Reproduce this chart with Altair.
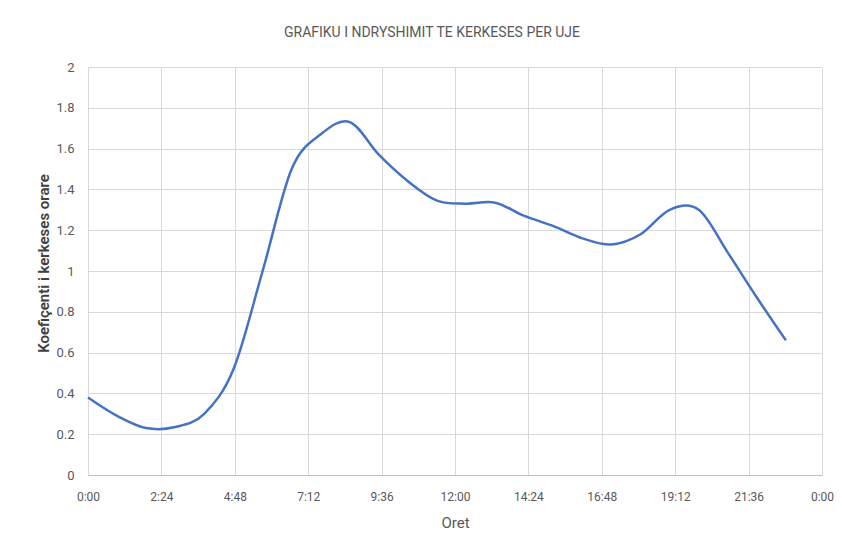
import altair as alt
import pandas as pd

# Hours (position on the 0–24 h axis) of each plotted point
hours = [0.00, 0.95, 1.90, 2.85, 3.80, 4.76, 5.71, 6.66, 7.61, 8.56, 9.51, 10.46,
         11.41, 12.36, 13.31, 14.27, 15.22, 16.17, 17.12, 18.07, 19.02, 19.97,
         20.92, 21.87, 22.82]
# Hourly demand coefficient
coef = [0.38, 0.29, 0.23, 0.235, 0.30, 0.52, 1.00, 1.50, 1.67, 1.73, 1.57, 1.44,
        1.345, 1.33, 1.335, 1.27, 1.22, 1.16, 1.13, 1.18, 1.30, 1.30, 1.09, 0.87, 0.66]

x_ticks = [0, 2.4, 4.8, 7.2, 9.6, 12, 14.4, 16.8, 19.2, 21.6, 24]
x_labels = ["0:00", "2:24", "4:48", "7:12", "9:36", "12:00", "14:24", "16:48",
            "19:12", "21:36", "0:00"]
y_ticks = [0, 0.2, 0.4, 0.6, 0.8, 1.0, 1.2, 1.4, 1.6, 1.8, 2.0]

df = pd.DataFrame({"ora": hours, "koef": coef})

label_expr = "".join(
    f"abs(datum.value - {v}) < 0.01 ? '{l}' : " for v, l in zip(x_ticks, x_labels)
) + "''"

FONT = "Liberation Sans Narrow, Roboto, sans-serif"

chart = (
    alt.Chart(df)
    .mark_line(color="#4472C4", strokeWidth=2.5, interpolate="cardinal")
    .encode(
        x=alt.X(
            "ora:Q",
            scale=alt.Scale(domain=[0, 24], nice=False, zero=False),
            axis=alt.Axis(
                values=x_ticks,
                labelExpr=label_expr,
                labelFlush=False,
                labelFontSize=12,
                title="Oret",
                grid=True,
                ticks=False,
                domain=True,
                domainColor="#bfbfbf",
                labelPadding=16,
                titlePadding=13,
            ),
        ),
        y=alt.Y(
            "koef:Q",
            scale=alt.Scale(domain=[0, 2], nice=False),
            axis=alt.Axis(
                values=y_ticks,
                format=".1~f",
                title="Koefiçenti i kerkeses orare",
                grid=True,
                ticks=False,
                domain=False,
                labelFlush=False,
                labelPadding=14,
                titleX=-45,
                titleY=196,
                titleAngle=-90,
                titleAlign="center",
                titleBaseline="middle",
                titleFontSize=15,
                titleFontWeight=600,
                titleColor="#404040",
            ),
        ),
    )
    .properties(
        width=734,
        height=408,
        padding={"left": 80, "top": 59, "right": 12, "bottom": 72},
        autosize=alt.AutoSizeParams(type="none"),
        title=alt.TitleParams(
            "GRAFIKU I NDRYSHIMIT TE KERKESES PER UJE",
            fontSize=14,
            fontWeight="normal",
            color="#595959",
            font=FONT,
            anchor="middle",
            dx=-23,
            offset=21,
        ),
    )
    .configure_view(stroke=None)
    .configure_axis(
        gridColor="#d9d9d9",
        gridWidth=1,
        labelFont=FONT,
        labelFontSize=13,
        labelColor="#595959",
        titleFont=FONT,
        titleFontSize=15,
        titleFontWeight="normal",
        titleColor="#595959",
    )
)

chart.save("out.html", embed_options={"renderer": "svg", "actions": False})
